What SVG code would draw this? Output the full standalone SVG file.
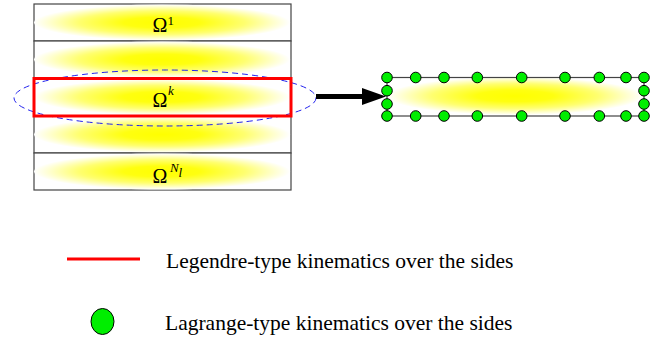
<svg xmlns="http://www.w3.org/2000/svg" width="665" height="342" viewBox="0 0 665 342">
<defs>
<radialGradient id="yg" cx="0.5" cy="0.5" r="0.5">
<stop offset="0" stop-color="#ffff00"/>
<stop offset="0.3" stop-color="#ffff10"/>
<stop offset="0.65" stop-color="#ffff70"/>
<stop offset="0.88" stop-color="#ffffd0"/>
<stop offset="1" stop-color="#ffffff"/>
</radialGradient>
</defs>
<style>
.layer{fill:#ffffff;stroke:#444444;stroke-width:1.2}
.glow{fill:url(#yg)}
.om{font-size:20px;fill:#000}
.sup{font-size:13px;fill:#000}
.it{font-style:italic}
.leg{font-size:21.5px;fill:#000}
.node{fill:#00ee00;stroke:#000;stroke-width:1}
</style>
<rect width="665" height="342" fill="#ffffff"/>
<g font-family="Liberation Serif, 'Times New Roman', 'DejaVu Serif', serif">
<g id="layer1">
<rect class="layer" x="34" y="4" width="257" height="37"/>
<ellipse class="glow" cx="162" cy="22.5" rx="128" ry="18"/>
<text class="om" x="152.5" y="31.7">Ω</text><text class="sup" x="167.5" y="25">1</text>
</g>
<g id="layer2">
<rect class="layer" x="34" y="41" width="257" height="37"/>
<ellipse class="glow" cx="162" cy="59.5" rx="128" ry="18"/>
</g>
<g id="layer3">
<rect class="layer" x="34" y="116" width="257" height="37"/>
<ellipse class="glow" cx="162" cy="134.5" rx="128" ry="18"/>
</g>
<g id="layer5">
<rect class="layer" x="34" y="153" width="257" height="37"/>
<ellipse class="glow" cx="162" cy="171.5" rx="128" ry="18"/>
<text class="om" x="152.5" y="182.5">Ω</text><text class="sup it" x="170" y="172">N</text><text class="sup it" x="178.5" y="177" font-size="9">l</text>
</g>
<g id="layerk">
<rect x="34" y="78" width="257" height="38" fill="#ffffff"/>
<ellipse class="glow" cx="162" cy="97" rx="128" ry="18"/>
<text class="om" x="152.5" y="106.7">Ω</text><text class="sup it" x="168" y="95">k</text>
<ellipse cx="165" cy="98" rx="151" ry="28" fill="none" stroke="#2222ee" stroke-width="1" stroke-dasharray="6,4"/>
<rect x="34" y="78.5" width="257" height="37.5" fill="none" stroke="#ff0000" stroke-width="3"/>
</g>
<g id="connectors">
<line x1="316" y1="96.5" x2="364" y2="96.5" stroke="#000" stroke-width="5"/>
<polygon points="362,88 386,96.5 362,105" fill="#000"/>
</g>
<g id="element">
<ellipse class="glow" cx="515" cy="96" rx="128" ry="19"/>
<rect x="387" y="77.5" width="257" height="38.5" fill="none" stroke="#444" stroke-width="1.2"/>
<g>
<circle class="node" cx="387" cy="77.5" r="5.3"/>
<circle class="node" cx="415.7" cy="77.5" r="5.3"/>
<circle class="node" cx="444" cy="77.5" r="5.3"/>
<circle class="node" cx="477.3" cy="77.5" r="5.3"/>
<circle class="node" cx="521.7" cy="77.5" r="5.3"/>
<circle class="node" cx="565" cy="77.5" r="5.3"/>
<circle class="node" cx="599.3" cy="77.5" r="5.3"/>
<circle class="node" cx="626" cy="77.5" r="5.3"/>
<circle class="node" cx="644" cy="77.5" r="5.3"/>
<circle class="node" cx="387" cy="116" r="5.3"/>
<circle class="node" cx="415.7" cy="116" r="5.3"/>
<circle class="node" cx="444" cy="116" r="5.3"/>
<circle class="node" cx="477.3" cy="116" r="5.3"/>
<circle class="node" cx="521.7" cy="116" r="5.3"/>
<circle class="node" cx="565" cy="116" r="5.3"/>
<circle class="node" cx="599.3" cy="116" r="5.3"/>
<circle class="node" cx="626" cy="116" r="5.3"/>
<circle class="node" cx="644" cy="116" r="5.3"/>
<circle class="node" cx="387" cy="90.7" r="5.3"/>
<circle class="node" cx="387" cy="104" r="5.3"/>
<circle class="node" cx="644" cy="90.7" r="5.3"/>
<circle class="node" cx="644" cy="104" r="5.3"/>
</g>
</g>
<g id="legend">
<line x1="67" y1="259" x2="140" y2="259" stroke="#ff0000" stroke-width="3"/>
<text class="leg" x="166" y="267.5">Legendre-type kinematics over the sides</text>
<ellipse class="node" cx="102.5" cy="321.5" rx="11.5" ry="13"/>
<text class="leg" x="165" y="330">Lagrange-type kinematics over the sides</text>
</g>
</g>
</svg>
